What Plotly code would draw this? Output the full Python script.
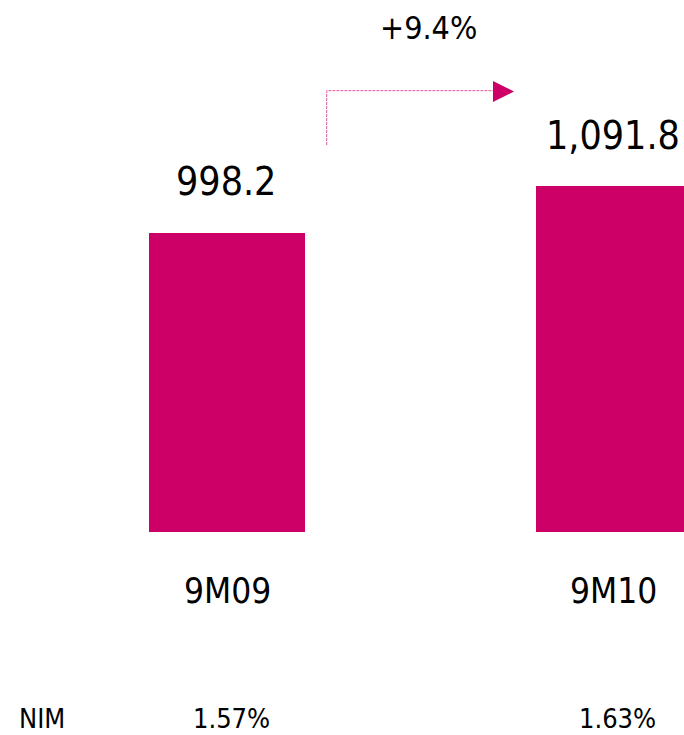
import plotly.graph_objects as go

# ---- data ----
categories = ["9M09", "9M10"]
values = [998.2, 1091.8]
value_labels = ["998.2", "1,091.8"]
nim_label = "NIM"
nim_values = ["1.57%", "1.63%"]
growth_label = "+9.4%"

BAR = "#CC0066"
FONT = "DejaVu Sans Condensed, DejaVu Sans, sans-serif"

W, H = 684, 735
PLOT_H = 532  # plot area height in px (bottom margin below)

def py(px):
    """paper y from pixel y (top origin)"""
    return (PLOT_H - px) / PLOT_H

def pxx(px):
    return px / W

xpos = list(range(len(categories)))

fig = go.Figure()
fig.add_trace(go.Bar(
    x=xpos, y=values, width=0.403,
    marker=dict(color=BAR, line=dict(width=0)),
    hoverinfo="skip",
))

ann = []
for i, (v, lab, cat, nim) in enumerate(zip(values, value_labels, categories, nim_values)):
    ann.append(dict(x=i, y=v, xref="x", yref="y", text=lab, showarrow=False,
                    xanchor="center", yanchor="middle", yshift=51, xshift=-1,
                    font=dict(family=FONT, size=39, color="#000")))
    ann.append(dict(x=i, y=py(591), xref="x", yref="paper", text=cat, showarrow=False,
                    xanchor="center", yanchor="middle", xshift=0,
                    font=dict(family=FONT, size=35, color="#000")))
    ann.append(dict(x=i, y=py(718), xref="x", yref="paper", text=nim, showarrow=False,
                    xanchor="center", yanchor="middle", xshift=4,
                    font=dict(family=FONT, size=27, color="#000")))

ann.append(dict(x=pxx(42), y=py(718), xref="paper", yref="paper", text=nim_label,
                showarrow=False, xanchor="center", yanchor="middle",
                font=dict(family=FONT, size=27, color="#000")))
ann.append(dict(x=pxx(428), y=py(28), xref="paper", yref="paper", text=growth_label,
                showarrow=False, xanchor="center", yanchor="middle",
                font=dict(family=FONT, size=32, color="#000")))

shapes = [
    dict(type="path", xref="paper", yref="paper",
         path=f"M {pxx(326.7)} {py(145)} L {pxx(326.7)} {py(90.7)} L {pxx(494)} {py(90.7)}",
         line=dict(color="#E0589C", width=1, dash="3px,1px")),
    dict(type="path", xref="paper", yref="paper",
         path=f"M {pxx(493)} {py(81)} L {pxx(514)} {py(91.5)} L {pxx(493)} {py(102)} Z",
         fillcolor=BAR, line=dict(color=BAR, width=0)),
]

fig.update_layout(
    width=W, height=H,
    margin=dict(l=0, r=0, t=0, b=H - PLOT_H, pad=0),
    paper_bgcolor="white", plot_bgcolor="white",
    showlegend=False,
    xaxis=dict(range=[-0.5866, 1.1809], visible=False, fixedrange=True),
    yaxis=dict(range=[398.3, 1464.6], visible=False, fixedrange=True),
    annotations=ann,
    shapes=shapes,
    bargap=0,
)

fig.write_html(
    "out.html",
    config=dict(displayModeBar=False),
    post_script="document.body.style.margin='0';document.body.style.overflow='hidden';",
)
